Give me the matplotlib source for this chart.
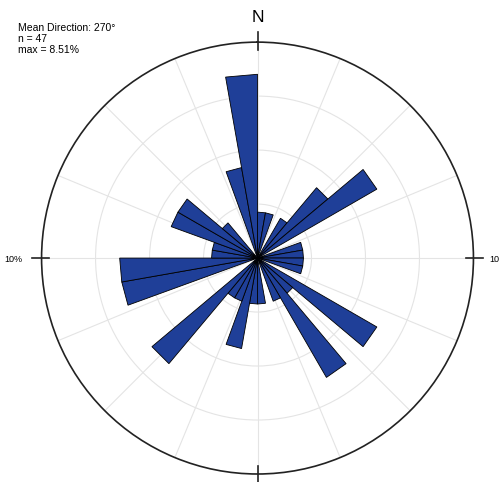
import numpy as np
import matplotlib
matplotlib.use("Agg")
import matplotlib.pyplot as plt

plt.rcParams["font.family"] = ["Liberation Sans", "DejaVu Sans"]

# rose diagram, 10 degree bins, counts per bin (n = 47)
bin_start = [0, 10, 30, 40, 50, 70, 80, 90, 100, 120, 130, 140, 150,
             170, 180, 190, 200, 210, 220, 250, 260, 270, 280, 290, 300,
             310, 340, 350]
counts = [1, 1, 1, 2, 3, 1, 1, 1, 1, 3, 1, 3, 1,
          1, 1, 2, 1, 1, 3, 3, 3, 1, 1, 2, 2,
          1, 2, 4]
n_total = 47
bin_width = 10
info_lines = ["Mean Direction: 270°", "n = 47", "max = 8.51%"]

pct = np.array(counts) / n_total * 100

fig = plt.figure(figsize=(4.99, 4.82), dpi=100)
ax = fig.add_axes([0.0832, 0.0166, 0.8657, 0.896], projection="polar")
ax.set_theta_zero_location("N")
ax.set_theta_direction(-1)
ax.set_ylim(0, 10)

# petals with straight outer edges
for b, v in zip(bin_start, pct):
    t0, t1 = np.deg2rad(b), np.deg2rad(b + bin_width)
    ax.fill([0, t0, t1, 0], [0, v, v, 0], facecolor="#1F3F98",
            edgecolor="black", linewidth=0.6, zorder=3)

# grid
ax.set_yticks([2.5, 5, 7.5])
ax.set_yticklabels([])
ax.set_xticks(np.deg2rad(np.arange(0, 360, 22.5)))
ax.set_xticklabels([])
ax.grid(color="#e4e4e4", linewidth=0.8)
ax.spines["polar"].set_linewidth(1.2)
ax.spines["polar"].set_color("#222222")

# cardinal tick crosses
for a in [0, 90, 180, 270]:
    ax.plot([np.deg2rad(a)] * 2, [9.65, 10.45], color="#222222", lw=1.2,
            clip_on=False, zorder=4)

fig.text(258 / 499, 1 - 18 / 482, "N", ha="center", va="center", fontsize=12.5)
fig.text(4 / 499, 1 - 260 / 482, "10%", ha="left", va="center", fontsize=6.5)
fig.text(489 / 499, 1 - 260 / 482, "10%", ha="left", va="center", fontsize=6.5)
fig.text(18 / 499, 1 - 23 / 482, "\n".join(info_lines), ha="left", va="top",
         fontsize=7.5, linespacing=1.1)

fig.savefig("out.png", dpi=100)
